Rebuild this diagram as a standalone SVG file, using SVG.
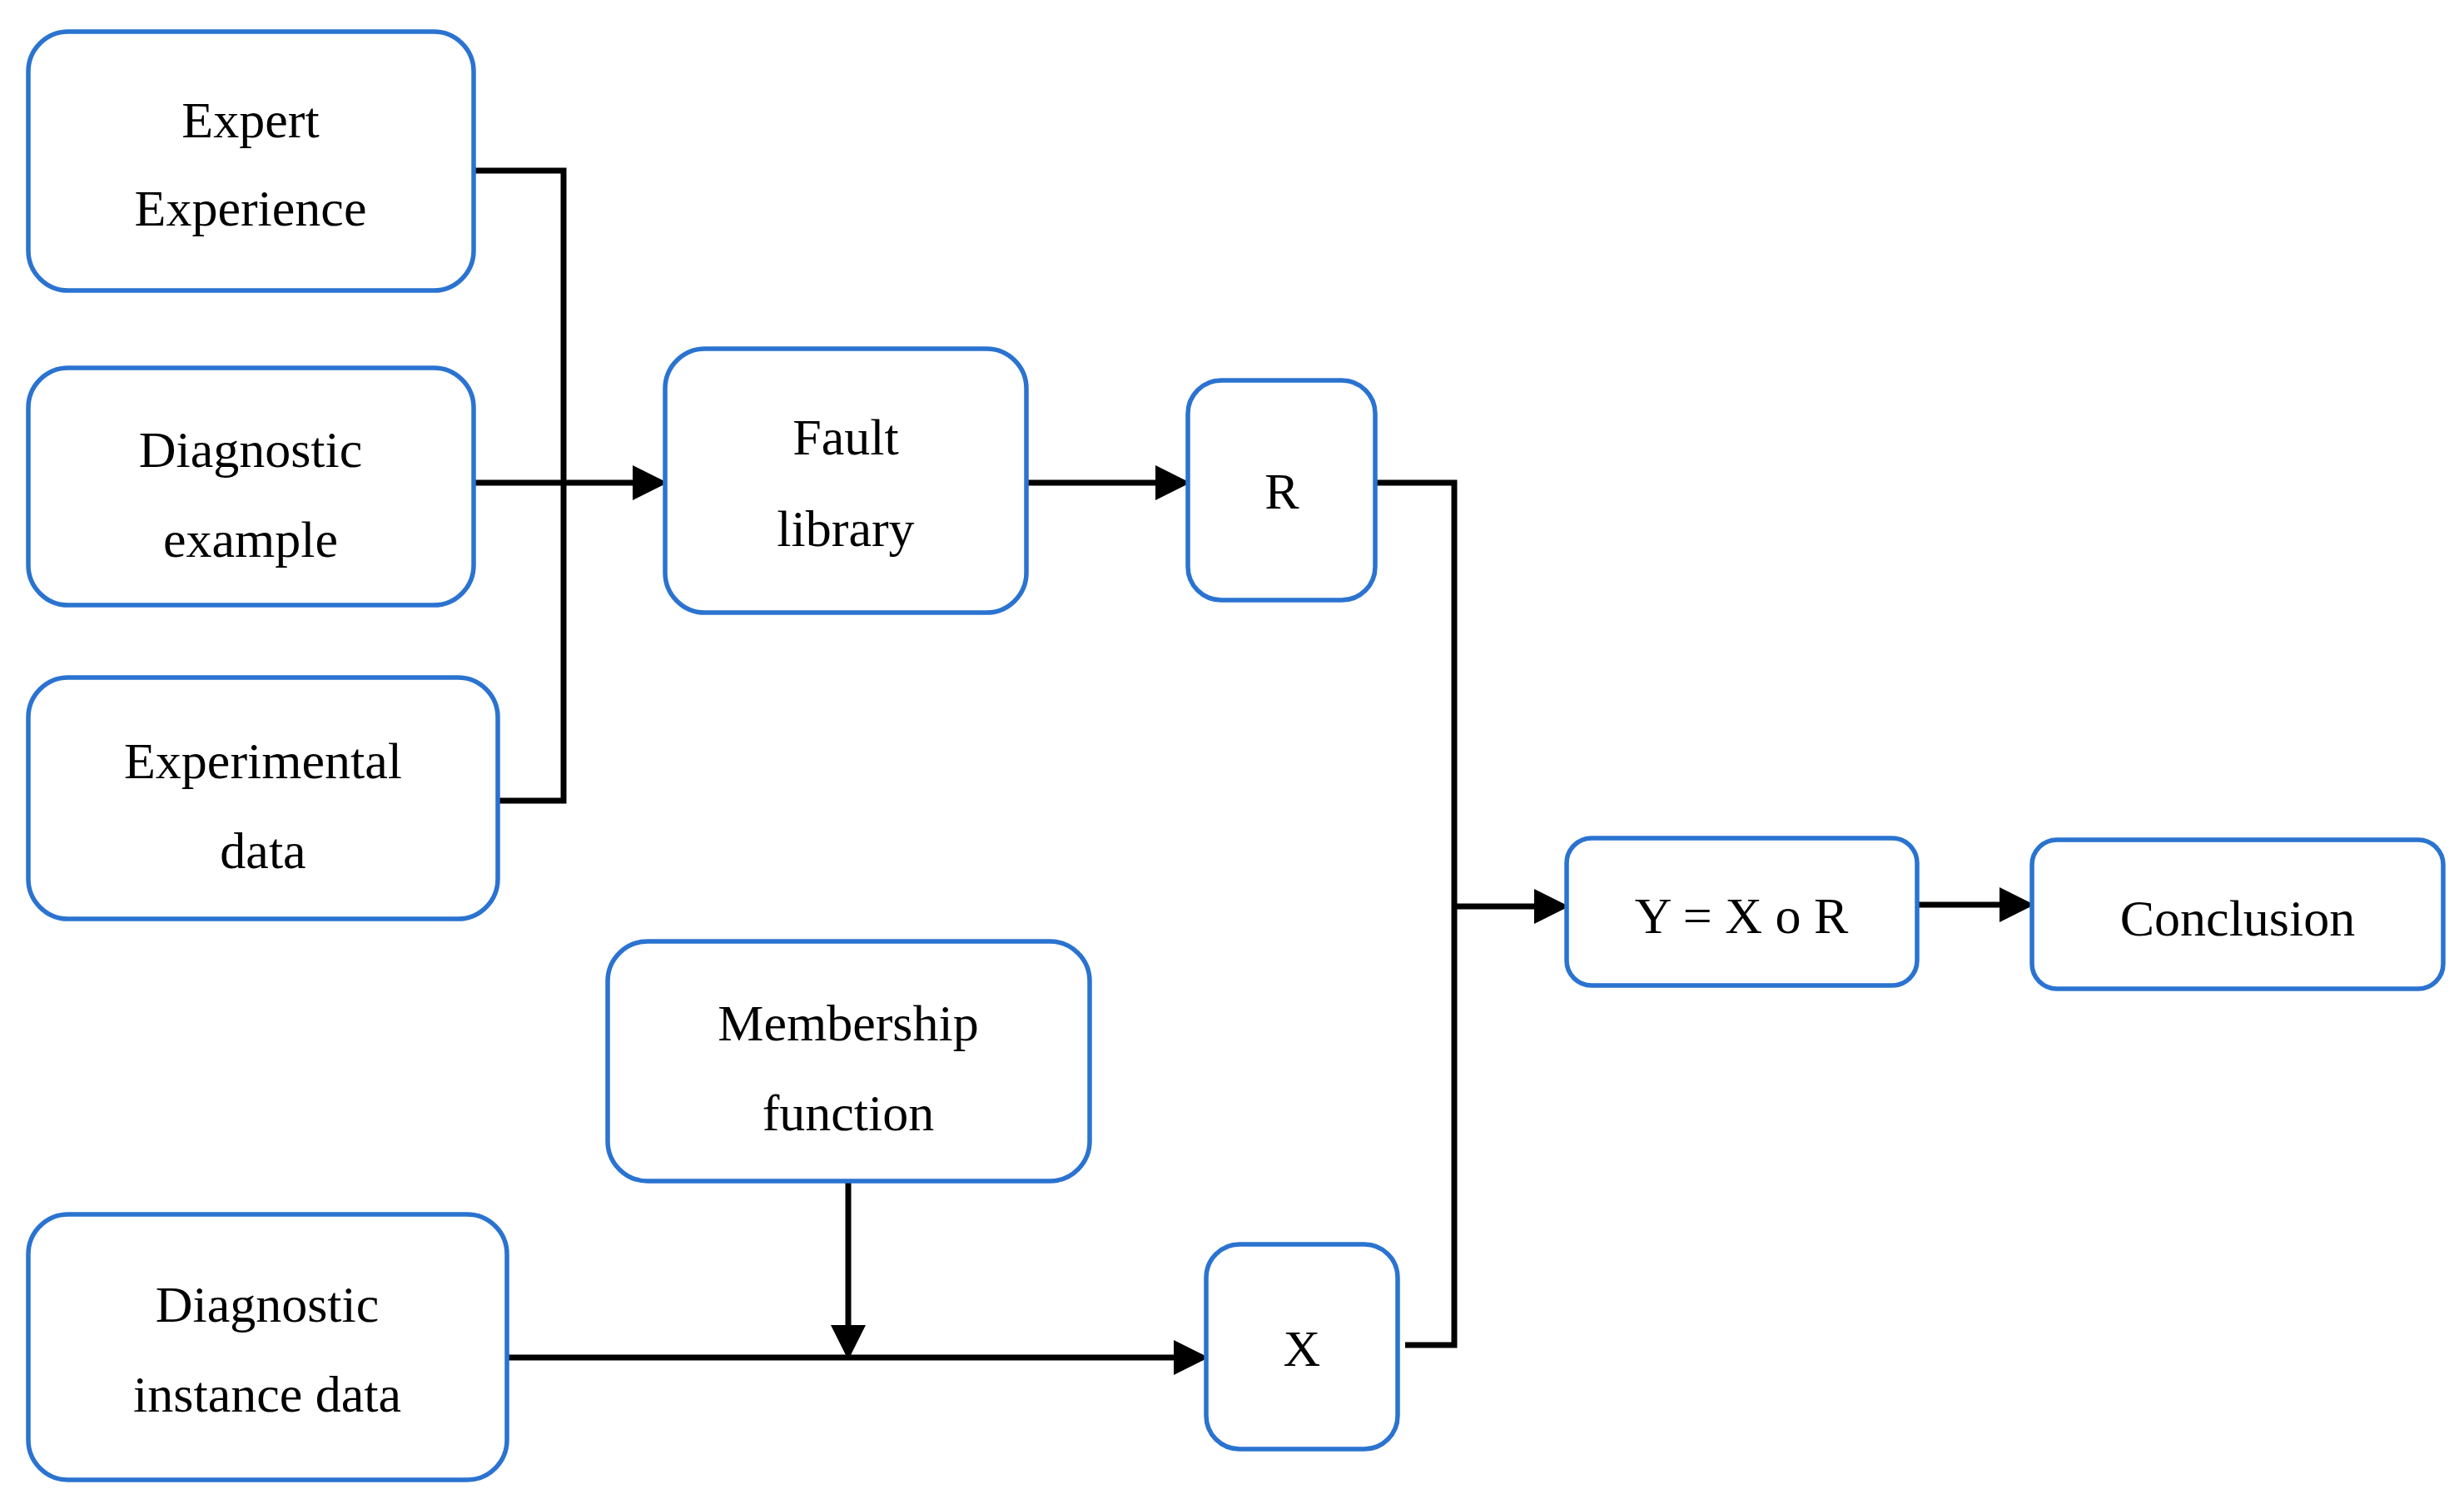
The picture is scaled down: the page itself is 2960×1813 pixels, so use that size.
<svg xmlns="http://www.w3.org/2000/svg" width="2960" height="1813" viewBox="0 0 2960 1813">
<style>
.n{fill:#fff;stroke:#2a73d0;stroke-width:5.5}
text{font-family:"Liberation Serif","DejaVu Serif",serif;font-size:62px;fill:#000;text-anchor:middle;dominant-baseline:central}
.c{fill:none;stroke:#000;stroke-width:7}
</style>
<defs><marker id="a" markerWidth="6" markerHeight="6" refX="5" refY="3" orient="auto" markerUnits="strokeWidth"><path d="M0,0L6,3L0,6z" fill="#000"/></marker></defs>
<rect width="2960" height="1813" fill="#fff"/>
<g id="connectors">
<path class="c" d="M569,205H677V962H598"/>
<path class="c" d="M569,580H795" marker-end="url(#a)"/>
<path class="c" d="M1233,580H1423" marker-end="url(#a)"/>
<path class="c" d="M1652,580H1747V1616H1688"/>
<path class="c" d="M1747,1089H1878" marker-end="url(#a)"/>
<path class="c" d="M2303,1087H2437" marker-end="url(#a)"/>
<path class="c" d="M609,1631H1445" marker-end="url(#a)"/>
<path class="c" d="M1019,1419V1627" marker-end="url(#a)"/>
</g>
<g id="expert"><rect class="n" x="34" y="38" width="535" height="311" rx="48"/><text x="301" y="144">Expert</text><text x="301" y="250">Experience</text></g>
<g id="diagex"><rect class="n" x="34" y="442" width="535" height="285" rx="48"/><text x="301" y="540">Diagnostic</text><text x="301" y="648">example</text></g>
<g id="expdata"><rect class="n" x="34" y="814" width="564" height="290" rx="48"/><text x="316" y="914">Experimental</text><text x="316" y="1022">data</text></g>
<g id="diaginst"><rect class="n" x="34" y="1459" width="575" height="319" rx="48"/><text x="321" y="1567">Diagnostic</text><text x="321" y="1675">instance data</text></g>
<g id="member"><rect class="n" x="730" y="1131" width="579" height="288" rx="48"/><text x="1019" y="1229">Membership</text><text x="1019" y="1337">function</text></g>
<g id="fault"><rect class="n" x="799" y="419" width="434" height="317" rx="48"/><text x="1016" y="525">Fault</text><text x="1016" y="635">library</text></g>
<g id="R"><rect class="n" x="1427" y="457" width="225" height="264" rx="40"/><text x="1540" y="590">R</text></g>
<g id="X"><rect class="n" x="1449" y="1495" width="230" height="246" rx="40"/><text x="1564" y="1620">X</text></g>
<g id="Y"><rect class="n" x="1882" y="1007" width="421" height="177" rx="30"/><text x="2092" y="1100">Y = X o R</text></g>
<g id="conclusion"><rect class="n" x="2441" y="1009" width="494" height="179" rx="30"/><text x="2688" y="1103">Conclusion</text></g>
</svg>
